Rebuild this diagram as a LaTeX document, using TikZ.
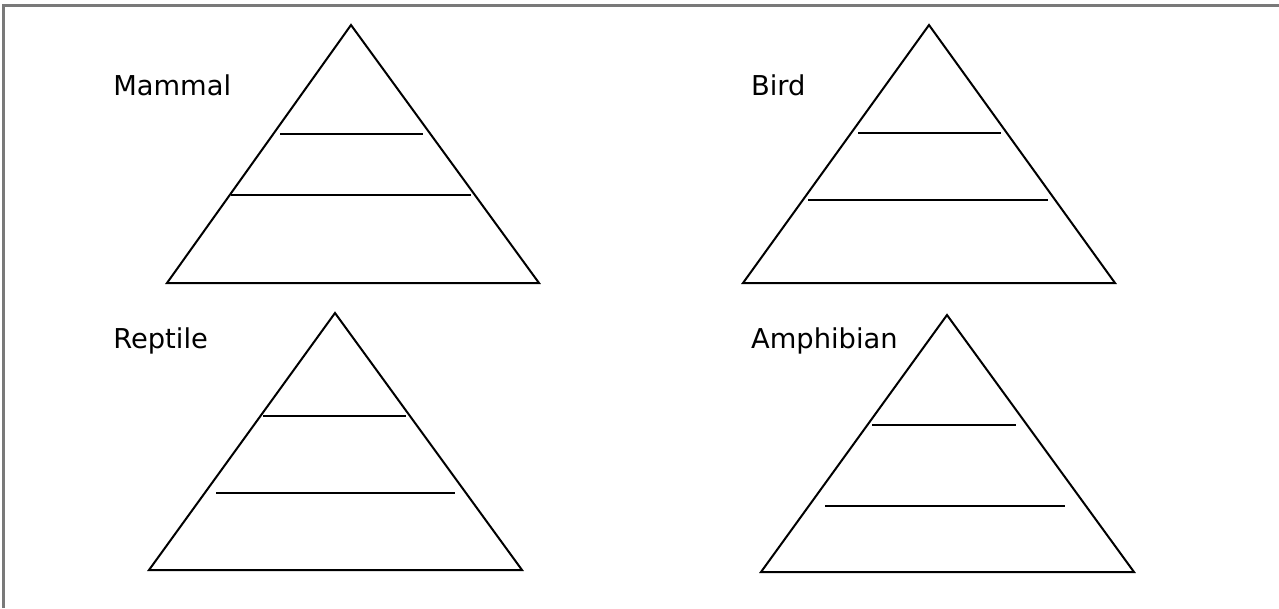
\documentclass[tikz,border=0pt]{standalone}
\usepackage{fontspec}
\setmainfont{DejaVu Sans}
\begin{document}
\begin{tikzpicture}[x=0.75pt,y=-0.75pt,
  frame/.style={draw=gray!95!black,line width=1.6pt},
  tri/.style={draw=black,line width=1.5pt,line join=miter},
  level/.style={draw=black,line width=1.6pt},
  lbl/.style={font=\fontsize{20.5pt}{24pt}\selectfont,inner sep=0pt}]
\useasboundingbox (0,0) rectangle (1279,608);
\fill[white] (0,0) rectangle (1279,608);
% frame (top and left only)
\draw[frame] (3.5,608) -- (3.5,5.5) -- (1279,5.5);
% Mammal
\coordinate (m1) at (351,25); \coordinate (m2) at (167,283); \coordinate (m3) at (539,283);
\draw[tri] (m1) -- (m2) -- (m3) -- cycle;
\draw[level] (280,134) -- (423,134);
\draw[level] (231,195) -- (471,195);
% Bird
\coordinate (b1) at (929,25); \coordinate (b2) at (743,283); \coordinate (b3) at (1115,283);
\draw[tri] (b1) -- (b2) -- (b3) -- cycle;
\draw[level] (858,133) -- (1001,133);
\draw[level] (808,200) -- (1048,200);
% Reptile
\coordinate (r1) at (335,313); \coordinate (r2) at (149,570); \coordinate (r3) at (522,570);
\draw[tri] (r1) -- (r2) -- (r3) -- cycle;
\draw[level] (263,416) -- (406,416);
\draw[level] (216,493) -- (455,493);
% Amphibian
\coordinate (a1) at (947,315); \coordinate (a2) at (761,572); \coordinate (a3) at (1134,572);
\draw[tri] (a1) -- (a2) -- (a3) -- cycle;
\draw[level] (872,425) -- (1016,425);
\draw[level] (825,506) -- (1065,506);
% labels
\node[lbl,anchor=base west] (lm) at (113,95) {Mammal};
\node[lbl,anchor=base west] (lr) at (113,348) {Reptile};
\node[lbl,anchor=base east] (la) at (898,348) {Amphibian};
\node[lbl,anchor=base west] (lb) at (la.base west |- 0,95) {Bird};
\end{tikzpicture}
\end{document}
